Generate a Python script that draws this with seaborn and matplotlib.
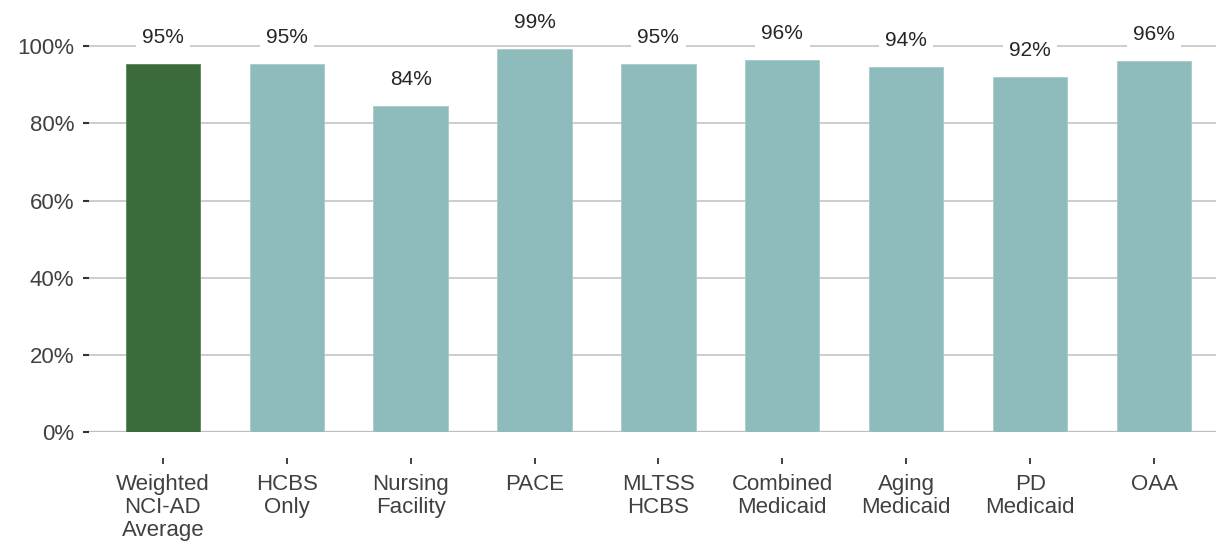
import matplotlib
matplotlib.use("Agg")
import matplotlib.pyplot as plt
import seaborn as sns
import pandas as pd

categories = ["Weighted\nNCI-AD\nAverage", "HCBS\nOnly", "Nursing\nFacility", "PACE",
              "MLTSS\nHCBS", "Combined\nMedicaid", "Aging\nMedicaid", "PD\nMedicaid", "OAA"]
values = [95.4, 95.4, 84.6, 99.4, 95.4, 96.4, 94.6, 92.0, 96.1]
value_labels = ["95%", "95%", "84%", "99%", "95%", "96%", "94%", "92%", "96%"]
ytick_values = [0, 20, 40, 60, 80, 100]
ytick_labels = ["0%", "20%", "40%", "60%", "80%", "100%"]

sns.set_theme(style="white")
plt.rcParams["font.family"] = ["Liberation Sans", "DejaVu Sans"]

fig = plt.figure(figsize=(12.16, 5.45), dpi=100)
ax = fig.add_axes([0.0707, 0.2073, 0.9293, 0.7927])

df = pd.DataFrame({"cat": categories, "val": values})
palette = ["#3B6B3A"] + ["#8EBCBC"] * (len(categories) - 1)
sns.barplot(data=df, x="cat", y="val", hue="cat", palette=palette, width=0.6,
            legend=False, ax=ax, saturation=1, edgecolor="#A9CACA", linewidth=0.6)
ax.patches[0].set_edgecolor("#5A8559")

ax.set_ylim(0, 112)
ax.set_xlim(-0.62, 8.5)
ax.set_yticks(ytick_values)
ax.set_yticklabels(ytick_labels)
ax.yaxis.grid(True, color="#C4C4C4", lw=1.2)
ax.set_axisbelow(True)
ax.axhline(0, color="#A8A8A8", lw=1.6, zorder=0.5)
ax.set_xlabel("")
ax.set_ylabel("")

for s in ["top", "right", "left"]:
    ax.spines[s].set_visible(False)
ax.spines["bottom"].set_position(("outward", 19))
ax.spines["bottom"].set_visible(False)

ax.tick_params(axis="y", which="major", left=True, direction="inout", length=5, width=1.5,
               color="#333333", labelsize=16, labelcolor="#404040", pad=6)
ax.tick_params(axis="x", which="major", bottom=True, direction="out", length=4, width=1.3,
               color="#333333", labelsize=16, labelcolor="#404040", pad=7)
for t in ax.get_xticklabels():
    t.set_linespacing(1.12)

for i, (v, lab) in enumerate(zip(values, value_labels)):
    ax.annotate(lab, (i, v), xytext=(0, 19), textcoords="offset points",
                ha="center", va="center", fontsize=15, color="#262626", zorder=5,
                bbox=dict(boxstyle="square,pad=0.3", fc="white", ec="none"))

fig.savefig("out.png", dpi=100)
